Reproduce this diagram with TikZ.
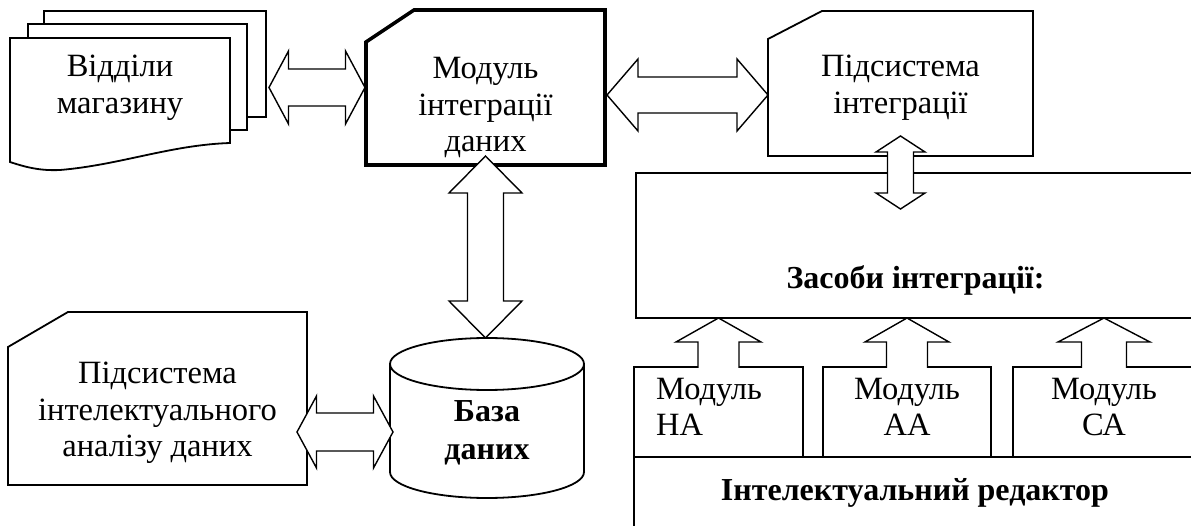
\documentclass[tikz,border=0pt]{standalone}
\usepackage{fontspec}
\setmainfont{Liberation Serif}
\usetikzlibrary{calc}

\tikzset{
  boxline/.style={line width=1.8pt, line join=miter},
  zone/.style={inner sep=0pt, outer sep=0pt},
  sheet/.style={zone, draw, fill=white, boxline},
  rbox/.style={zone, draw, fill=white, boxline},
  blk/.style={draw, fill=white, line width=1.4pt, line join=miter},
  txt/.style={align=center, inner sep=0pt, font=\fontsize{32.5}{36.5}\selectfont},
  btxt/.style={txt, font=\fontsize{32}{38}\selectfont\bfseries}
}

\newcommand{\cutbox}[4][]{%
  \draw[boxline,fill=white,#1] ([yshift=-#4pt]#2.north west) -- ([xshift=#3pt]#2.north west) -- (#2.north east) -- (#2.south east) -- (#2.south west) -- cycle;}
\newcommand{\hblk}[5]{%
  \draw[blk] let \p1=#1, \p2=#2 in (\p1) -- (\x1+#3,\y1+#4) -- (\x1+#3,\y1+#5) -- (\x2-#3,\y1+#5) -- (\x2-#3,\y1+#4) -- (\x2,\y1) -- (\x2-#3,\y1-#4) -- (\x2-#3,\y1-#5) -- (\x1+#3,\y1-#5) -- (\x1+#3,\y1-#4) -- cycle;}
\newcommand{\vblk}[5]{%
  \draw[blk] let \p1=#1, \p2=#2 in (\p1) -- (\x1+#4,\y1-#3) -- (\x1+#5,\y1-#3) -- (\x1+#5,\y2+#3) -- (\x1+#4,\y2+#3) -- (\x1,\y2) -- (\x1-#4,\y2+#3) -- (\x1-#5,\y2+#3) -- (\x1-#5,\y1-#3) -- (\x1-#4,\y1-#3) -- cycle;}
\newcommand{\upblk}[5]{%
  \draw[blk] let \p1=#1, \p2=#2 in (\x1+#5,\y2-1) -- (\x1+#5,\y1-#3) -- (\x1+#4,\y1-#3) -- (\p1) -- (\x1-#4,\y1-#3) -- (\x1-#5,\y1-#3) -- (\x1-#5,\y2-1);}

\begin{document}
\begin{tikzpicture}[x=1pt,y=-1pt]
	\useasboundingbox (0,0) rectangle (1191,526);
	\clip (0,0) rectangle (1191,526);
	% shop departments
	\node[sheet, minimum width=222pt, minimum height=106pt] (pg3) at (155,64) {};
	\node[sheet, minimum width=219pt, minimum height=106pt] (pg2) at (137.5,77) {};
	\node[zone, minimum width=220pt, minimum height=97pt] (pg1) at (120,86.5) {};
	\draw[boxline, fill=white] (pg1.north west) -- (pg1.north east) -- ([yshift=-8pt]pg1.south east) .. controls (170,145) and (120,165) .. (60,170) .. controls (40,171) and (25,167) .. (10,162) -- cycle;
	\node[txt] (pgtxt) at (120,88) {Відділи\\магазину};
	% cut-corner boxes
	\node[zone, minimum width=239pt, minimum height=155pt] (mod) at (485.5,87.5) {};
	\cutbox[line width=3.6pt]{mod}{48}{32}
	\node[txt] (modtxt) at (485.5,108) {Модуль\\інтеграції\\даних};
	\node[zone, minimum width=265pt, minimum height=145pt] (sub) at (900.5,83.5) {};
	\cutbox{sub}{54}{28}
	\node[txt] (subtxt) at (900.5,87.5) {Підсистема\\інтеграції};
	\node[zone, minimum width=299pt, minimum height=173pt] (ana) at (157.5,398.5) {};
	\cutbox{ana}{60}{35}
	\node[txt] (anatxt) at (157.5,413) {Підсистема\\інтелектуального\\аналізу даних};
	% database
	\node[zone, minimum width=194pt, minimum height=160pt] (db) at (487,418) {};
	\draw[boxline, fill=white] (390,364) -- (390,472) .. controls (390,486.4) and (433.4,498) .. (487,498) .. controls (540.6,498) and (584,486.4) .. (584,472) -- (584,364);
	\draw[boxline] (487,364) ellipse (97 and 26);
	\node[btxt] (dbtxt) at (487,433) {База\\даних};
	% integration tools, editor, modules
	\node[rbox, minimum width=559pt, minimum height=145pt] (tools) at (915.5,245.5) {};
	\node[btxt] (toolstxt) at (915.5,280) {Засоби інтеграції:};
	\node[rbox, minimum width=561pt, minimum height=103pt] (edit) at (914.5,508.5) {};
	\node[btxt] (edittxt) at (915,493) {Інтелектуальний редактор};
	\node[rbox, minimum width=169pt, minimum height=90pt] (mna) at (718.5,412) {};
	\node[rbox, minimum width=168pt, minimum height=90pt] (maa) at (907,412) {};
	\node[rbox, minimum width=182pt, minimum height=90pt] (mca) at (1104,412) {};
	\node[txt, align=left, anchor=west] (mnatxt) at (656,407) {Модуль\\НА};
	\node[txt] (maatxt) at (907,407) {Модуль\\АА};
	\node[txt] (mcatxt) at (1104,407) {Модуль\\СА};
	% block arrows
	\hblk{($(pg3.east |- mod.west)+(3,0)$)}{([xshift=-1pt]mod.west)}{19.5}{36.5}{18.5}
	\hblk{($(mod.east)+(2,7.5)$)}{(sub.west)}{31}{36}{18}
	\vblk{([yshift=20pt]sub.south)}{([yshift=-36pt]tools.north)}{16}{24.5}{13}
	\vblk{([yshift=9pt]mod.south)}{(db.north)}{37}{36.5}{18}
	\hblk{($(ana.east)+(-10,33.5)$)}{([xshift=3pt]db.west)}{19.5}{36}{19}
	\foreach \m/\hh/\sh in {mna/42.5/20.5, maa/42/20.5, mca/46/22.5}
		\upblk{(\m.north |- tools.south)}{(\m.north)}{24}{\hh}{\sh};
\end{tikzpicture}
\end{document}
